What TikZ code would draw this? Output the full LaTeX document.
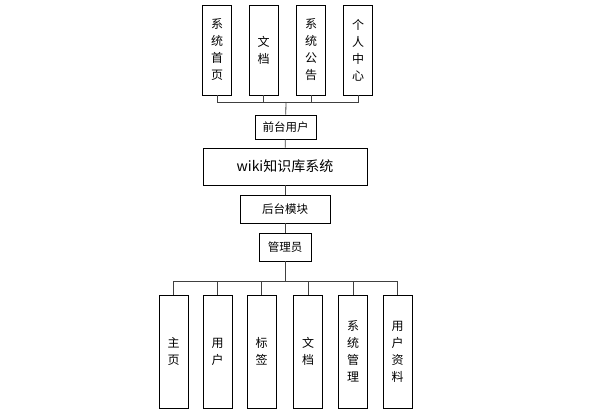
\documentclass[tikz,border=0pt]{standalone}
\usepackage{fontspec}
\newfontfamily\cjk{Noto Sans CJK SC}
\usetikzlibrary{positioning}

\tikzset{
    box/.style={draw=black, line width=0.8pt, inner sep=0pt, align=center,
        font=\cjk\fontsize{11.5}{13}\selectfont},
    colbox/.style={box, minimum width=29pt, font=\cjk\fontsize{12}{17}\selectfont},
    link/.style={draw=black!75, line width=0.8pt}
}

\begin{document}
\begin{tikzpicture}[x=1pt,y=-1pt]

        \useasboundingbox (0,0) rectangle (603,419);

        % ===============================
        % Centro: usuario y sistema
        % ===============================
        \node[box, minimum width=61pt, minimum height=24pt] (qt) at (285.5,127) {前台用户};
        \node[box, minimum width=164pt, minimum height=37pt,
            font=\cjk\fontsize{14}{16}\selectfont] (wiki) at (285,166.5) {wiki知识库系统};
        \node[box, minimum width=90pt, minimum height=28pt] (ht) at (285,209) {后台模块};
        \node[box, minimum width=52pt, minimum height=28pt] (gly) at (285,247) {管理员};

        \draw[link] (qt) -- (wiki);
        \draw[link] (wiki) -- (ht);
        \draw[link] (ht) -- (gly);

        % ===============================
        % Módulos del front
        % ===============================
        \coordinate (busa) at (286,102);
        \foreach \i/\x/\t in {1/217/系\\统\\首\\页, 2/263.5/文\\档,
                3/311/系\\统\\公\\告, 4/358/个\\人\\中\\心}{
                \node[colbox, minimum height=90pt] (t\i) at (\x,50) {\t};
                \draw[link] (t\i.south) |- (busa);
            }
        \draw[link] (busa) -- (qt);

        % ===============================
        % Módulos del back
        % ===============================
        \coordinate (busb) at (285,281);
        \draw[link] (gly) -- (busb);
        \foreach \i/\x/\t in {1/173.5/主\\页, 2/217.5/用\\户, 3/261.5/标\\签,
                4/308/文\\档, 5/353/系\\统\\管\\理, 6/397.5/用\\户\\资\\料}{
                \node[colbox, minimum height=113pt] (b\i) at (\x,351.5) {\t};
                \draw[link] (busb) -| (b\i.north);
            }

    \end{tikzpicture}
\end{document}
